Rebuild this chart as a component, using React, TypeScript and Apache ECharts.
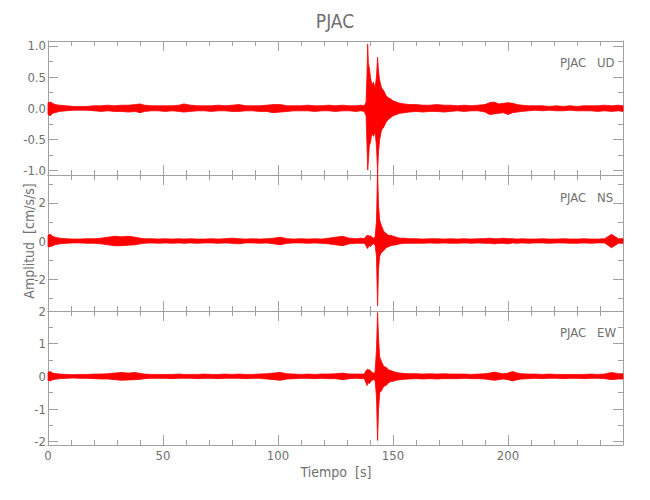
import React, { useEffect, useRef } from "react";
import * as echarts from "echarts";

// Time samples (s) at which the trace envelopes were read
const times = [
  0, 1, 2, 3, 5,
  8, 11, 14, 17, 20,
  23, 26, 29, 32, 35,
  38, 40, 42, 45, 48,
  51, 54, 57, 59, 62,
  65, 68, 71, 74, 77,
  80, 83, 86, 89, 92,
  95, 98, 101, 104, 107,
  110, 113, 116, 119, 122,
  125, 128, 131, 134, 136,
  137.5, 138.3, 138.7, 139, 139.3,
  139.7, 140.2, 140.8, 141.5, 142.2,
  142.8, 143.3, 143.7, 144.2, 145,
  146, 147, 148, 149, 150,
  151.5, 153, 155, 157, 160,
  163, 166, 169, 172, 175,
  178, 181, 184, 187, 190,
  192, 194, 196, 198, 200,
  202, 204, 206, 209, 212,
  215, 218, 221, 224, 227,
  230, 233, 236, 239, 242,
  245, 248, 250,
];

// UD component: upper / lower envelope (cm/s/s)
const udHigh = [
  0.09, 0.1, 0.08, 0.06, 0.05,
  0.04, 0.03, 0.03, 0.03, 0.04,
  0.04, 0.05, 0.04, 0.05, 0.05,
  0.06, 0.07, 0.05, 0.04, 0.04,
  0.04, 0.04, 0.05, 0.07, 0.05,
  0.04, 0.04, 0.04, 0.05, 0.04,
  0.05, 0.06, 0.04, 0.04, 0.04,
  0.05, 0.06, 0.06, 0.04, 0.04,
  0.04, 0.05, 0.04, 0.04, 0.05,
  0.04, 0.05, 0.04, 0.04, 0.05,
  0.04, 0.1, 0.55, 1.03, 0.72,
  0.65, 0.5, 0.38, 0.42, 0.33,
  0.5, 0.82, 0.6, 0.45, 0.33,
  0.28, 0.2, 0.17, 0.15, 0.12,
  0.1, 0.08, 0.07, 0.06, 0.06,
  0.05, 0.05, 0.06, 0.05, 0.05,
  0.04, 0.05, 0.04, 0.05, 0.06,
  0.09, 0.1, 0.07, 0.08, 0.09,
  0.08, 0.06, 0.05, 0.04, 0.04,
  0.04, 0.03, 0.04, 0.03, 0.04,
  0.03, 0.04, 0.04, 0.04, 0.05,
  0.04, 0.05, 0.04,
];
const udLow = [
  -0.1, -0.12, -0.08, -0.07, -0.05,
  -0.04, -0.03, -0.03, -0.03, -0.04,
  -0.05, -0.04, -0.05, -0.05, -0.06,
  -0.05, -0.07, -0.05, -0.04, -0.04,
  -0.05, -0.04, -0.05, -0.06, -0.05,
  -0.04, -0.04, -0.05, -0.04, -0.04,
  -0.05, -0.05, -0.04, -0.04, -0.05,
  -0.05, -0.07, -0.06, -0.05, -0.04,
  -0.04, -0.04, -0.05, -0.04, -0.04,
  -0.05, -0.04, -0.04, -0.05, -0.04,
  -0.05, -0.12, -0.6, -0.99, -0.85,
  -0.6, -0.55, -0.4, -0.45, -0.38,
  -0.6, -1.02, -0.7, -0.5, -0.35,
  -0.3, -0.22, -0.18, -0.15, -0.12,
  -0.1, -0.08, -0.07, -0.06, -0.05,
  -0.06, -0.05, -0.05, -0.06, -0.05,
  -0.04, -0.05, -0.04, -0.04, -0.06,
  -0.1, -0.09, -0.08, -0.07, -0.1,
  -0.07, -0.06, -0.05, -0.04, -0.03,
  -0.04, -0.03, -0.04, -0.04, -0.03,
  -0.04, -0.04, -0.04, -0.05, -0.04,
  -0.05, -0.04, -0.05,
];

// NS component
const nsHigh = [
  0.3, 0.35, 0.25, 0.2, 0.15,
  0.12, 0.1, 0.1, 0.12, 0.12,
  0.15, 0.2, 0.25, 0.22, 0.25,
  0.2, 0.15, 0.12, 0.12, 0.1,
  0.12, 0.1, 0.12, 0.1, 0.12,
  0.1, 0.1, 0.12, 0.1, 0.12,
  0.15, 0.12, 0.1, 0.12, 0.1,
  0.12, 0.15, 0.2, 0.12, 0.1,
  0.12, 0.1, 0.12, 0.1, 0.15,
  0.2, 0.25, 0.15, 0.12, 0.15,
  0.12, 0.25, 0.3, 0.28, 0.3,
  0.25, 0.28, 0.2, 0.15, 0.2,
  1.0, 3.75, 1.9, 1.1, 0.8,
  0.5, 0.4, 0.3, 0.3, 0.25,
  0.2, 0.15, 0.15, 0.12, 0.12,
  0.1, 0.12, 0.12, 0.1, 0.12,
  0.1, 0.12, 0.1, 0.12, 0.12,
  0.15, 0.12, 0.12, 0.15, 0.12,
  0.12, 0.1, 0.12, 0.1, 0.1,
  0.12, 0.1, 0.1, 0.12, 0.1,
  0.1, 0.12, 0.1, 0.1, 0.12,
  0.35, 0.12, 0.12,
];
const nsLow = [
  -0.3, -0.3, -0.25, -0.2, -0.15,
  -0.12, -0.1, -0.1, -0.12, -0.12,
  -0.15, -0.2, -0.25, -0.25, -0.22,
  -0.2, -0.15, -0.12, -0.1, -0.12,
  -0.1, -0.12, -0.1, -0.12, -0.1,
  -0.12, -0.1, -0.1, -0.12, -0.1,
  -0.12, -0.15, -0.1, -0.1, -0.12,
  -0.1, -0.15, -0.2, -0.12, -0.1,
  -0.1, -0.12, -0.1, -0.12, -0.15,
  -0.2, -0.25, -0.15, -0.12, -0.12,
  -0.12, -0.25, -0.35, -0.4, -0.3,
  -0.25, -0.3, -0.2, -0.15, -0.2,
  -0.8, -3.42, -1.5, -0.8, -0.6,
  -0.5, -0.35, -0.3, -0.25, -0.22,
  -0.2, -0.15, -0.12, -0.12, -0.12,
  -0.12, -0.1, -0.12, -0.1, -0.12,
  -0.12, -0.1, -0.12, -0.1, -0.12,
  -0.12, -0.15, -0.12, -0.12, -0.15,
  -0.1, -0.12, -0.1, -0.12, -0.1,
  -0.1, -0.12, -0.1, -0.1, -0.12,
  -0.12, -0.1, -0.12, -0.1, -0.1,
  -0.35, -0.12, -0.12,
];

// EW component
const ewHigh = [
  0.12, 0.15, 0.1, 0.09, 0.07,
  0.06, 0.05, 0.06, 0.06, 0.07,
  0.07, 0.08, 0.1, 0.12, 0.1,
  0.12, 0.09, 0.07, 0.06, 0.06,
  0.06, 0.06, 0.07, 0.06, 0.06,
  0.06, 0.07, 0.06, 0.06, 0.07,
  0.06, 0.07, 0.06, 0.06, 0.07,
  0.08, 0.1, 0.12, 0.08, 0.07,
  0.06, 0.07, 0.06, 0.07, 0.07,
  0.08, 0.1, 0.07, 0.07, 0.07,
  0.07, 0.18, 0.2, 0.22, 0.2,
  0.2, 0.18, 0.12, 0.1, 0.12,
  0.8, 1.95, 1.2, 0.6, 0.45,
  0.3, 0.28, 0.2, 0.18, 0.15,
  0.12, 0.1, 0.09, 0.08, 0.08,
  0.07, 0.08, 0.07, 0.08, 0.07,
  0.07, 0.07, 0.06, 0.07, 0.08,
  0.1, 0.13, 0.1, 0.08, 0.1,
  0.15, 0.1, 0.08, 0.07, 0.07,
  0.06, 0.07, 0.06, 0.06, 0.06,
  0.06, 0.06, 0.07, 0.06, 0.07,
  0.12, 0.08, 0.08,
];
const ewLow = [
  -0.12, -0.14, -0.1, -0.09, -0.07,
  -0.06, -0.05, -0.06, -0.06, -0.07,
  -0.08, -0.08, -0.1, -0.12, -0.11,
  -0.1, -0.09, -0.07, -0.06, -0.06,
  -0.06, -0.07, -0.06, -0.06, -0.06,
  -0.07, -0.06, -0.06, -0.07, -0.06,
  -0.06, -0.06, -0.07, -0.06, -0.06,
  -0.08, -0.1, -0.12, -0.08, -0.07,
  -0.06, -0.06, -0.07, -0.06, -0.07,
  -0.07, -0.1, -0.07, -0.06, -0.07,
  -0.07, -0.2, -0.28, -0.22, -0.2,
  -0.22, -0.18, -0.12, -0.1, -0.12,
  -0.6, -1.96, -1.05, -0.5, -0.44,
  -0.3, -0.28, -0.2, -0.16, -0.15,
  -0.12, -0.1, -0.09, -0.08, -0.07,
  -0.08, -0.07, -0.08, -0.07, -0.07,
  -0.07, -0.06, -0.07, -0.07, -0.08,
  -0.1, -0.12, -0.1, -0.08, -0.1,
  -0.14, -0.1, -0.08, -0.07, -0.06,
  -0.07, -0.06, -0.06, -0.07, -0.06,
  -0.06, -0.07, -0.06, -0.06, -0.07,
  -0.1, -0.08, -0.08,
];

// Tick labels
const xTickLabels = [0, 50, 100, 150, 200];
const udMajor = [-1, -0.5, 0, 0.5, 1];
const udMinor = [-0.75, -0.25, 0.25, 0.75];
const nsMajor = [-2, 0, 2];
const nsMinor = [-3, -1, 1, 3];
const ewMajor = [-2, -1, 0, 1, 2];
const ewMinor = [-1.5, -0.5, 0.5, 1.5];

const FONT = "'Liberation Sans Narrow', 'DejaVu Sans Condensed', 'Liberation Sans', sans-serif";
const TEXT = "#707070";
const AXIS = "#a0a0a0";
const RED = "#ff0000";

const panels = [
  { station: "PJAC", comp: "UD", top: 41, height: 134, min: -1.07, max: 1.08, major: udMajor, minor: udMinor, high: udHigh, low: udLow, digits: 1, labelY: 62 },
  { station: "PJAC", comp: "NS", top: 175, height: 136, min: -3.68, max: 3.47, major: nsMajor, minor: nsMinor, high: nsHigh, low: nsLow, digits: 0, labelY: 197 },
  { station: "PJAC", comp: "EW", top: 311, height: 134, min: -2.1, max: 2.0, major: ewMajor, minor: ewMinor, high: ewHigh, low: ewLow, digits: 0, labelY: 332 },
];

export default function App() {
  const ref = useRef<HTMLDivElement>(null);

  useEffect(() => {
    if (!ref.current) return;
    const chart = echarts.init(ref.current, undefined, { renderer: "svg" });

    const grid: any[] = [];
    const xAxis: any[] = [];
    const yAxis: any[] = [];
    const series: any[] = [];
    const graphic: any[] = [];

    panels.forEach((p, i) => {
      grid.push({ left: 48, right: 27, top: p.top, height: p.height });
      (["bottom", "top"] as const).forEach((pos) => {
        xAxis.push({
          type: "value",
          gridIndex: i,
          position: pos,
          min: 0,
          max: 250,
          interval: 50,
          axisLine: { show: true, onZero: false, lineStyle: { color: AXIS, width: 1 } },
          axisTick: { show: true, inside: true, length: 10, lineStyle: { color: AXIS } },
          minorTick: { show: true, splitNumber: 5, length: 5, lineStyle: { color: AXIS } },
          axisLabel: {
            show: pos === "bottom" && i === panels.length - 1,
            customValues: xTickLabels,
            color: TEXT,
            fontFamily: FONT,
            fontSize: 13,
            margin: 4,
          },
          splitLine: { show: false },
        });
      });
      const mkY = (pos: string, values: number[], len: number, line: boolean, label: boolean) => ({
        type: "value",
        gridIndex: i,
        position: pos,
        min: p.min,
        max: p.max,
        axisLine: { show: line, onZero: false, lineStyle: { color: AXIS, width: 1 } },
        axisTick: { show: true, inside: true, length: len, customValues: values, lineStyle: { color: AXIS } },
        axisLabel: {
          show: label,
          customValues: values,
          formatter: (v: number) => v.toFixed(p.digits),
          color: TEXT,
          fontFamily: FONT,
          fontSize: 13,
          margin: 2,
        },
        splitLine: { show: false },
      });
      yAxis.push(mkY("left", p.major, 10, true, true));
      yAxis.push(mkY("left", p.minor, 5, false, false));
      yAxis.push(mkY("right", p.major, 10, true, false));
      yAxis.push(mkY("right", p.minor, 5, false, false));

      // Trace drawn as the band between upper and lower envelopes,
      // every vertex mapped through the panel's axes with api.coord.
      series.push({
        type: "custom",
        name: p.comp,
        xAxisIndex: 2 * i,
        yAxisIndex: 4 * i,
        silent: true,
        clip: false,
        z: 3,
        data: times.map((t, k) => [t, p.high[k], p.low[k]]),
        encode: { x: 0, y: [1, 2] },
        renderItem: (params: any, api: any) => {
          if (params.dataIndex !== 0) return null;
          const pts: number[][] = [];
          for (let k = 0; k < times.length; k++) pts.push(api.coord([times[k], p.high[k]]));
          for (let k = times.length - 1; k >= 0; k--) pts.push(api.coord([times[k], p.low[k]]));
          return {
            type: "polygon",
            shape: { points: pts },
            style: { fill: RED, stroke: RED, lineWidth: 0.8, lineJoin: "round" },
          };
        },
      });

      graphic.push({
        type: "text",
        x: 560,
        y: p.labelY,
        style: { text: p.station, fill: TEXT, fontFamily: FONT, fontSize: 13, align: "left", verticalAlign: "middle", textAlign: "left", textVerticalAlign: "middle" },
      });
      graphic.push({
        type: "text",
        x: 597,
        y: p.labelY,
        style: { text: p.comp, fill: TEXT, fontFamily: FONT, fontSize: 13, align: "left", verticalAlign: "middle", textAlign: "left", textVerticalAlign: "middle" },
      });
    });

    graphic.push({
      type: "text",
      x: 335,
      y: 21,
      style: { text: "PJAC", fill: TEXT, fontFamily: FONT, fontSize: 19, align: "center", verticalAlign: "middle", textAlign: "center", textVerticalAlign: "middle" },
    });
    graphic.push({
      type: "text",
      x: 336,
      y: 472,
      style: { text: "Tiempo  [s]", fill: TEXT, fontFamily: FONT, fontSize: 14, align: "center", verticalAlign: "middle", textAlign: "center", textVerticalAlign: "middle" },
    });
    graphic.push({
      type: "text",
      x: 29,
      y: 241,
      rotation: Math.PI / 2,
      style: { text: "Amplitud  [cm/s/s]", fill: TEXT, fontFamily: FONT, fontSize: 14, align: "center", verticalAlign: "middle", textAlign: "center", textVerticalAlign: "middle" },
    });

    chart.setOption({
      animation: false,
      backgroundColor: "#ffffff",
      grid,
      xAxis,
      yAxis,
      series,
      graphic,
    });

    return () => chart.dispose();
  }, []);

  return (
    <div
      ref={ref}
      style={{ position: "fixed", left: 0, top: 0, width: 650, height: 500, background: "#fff" }}
    />
  );
}
